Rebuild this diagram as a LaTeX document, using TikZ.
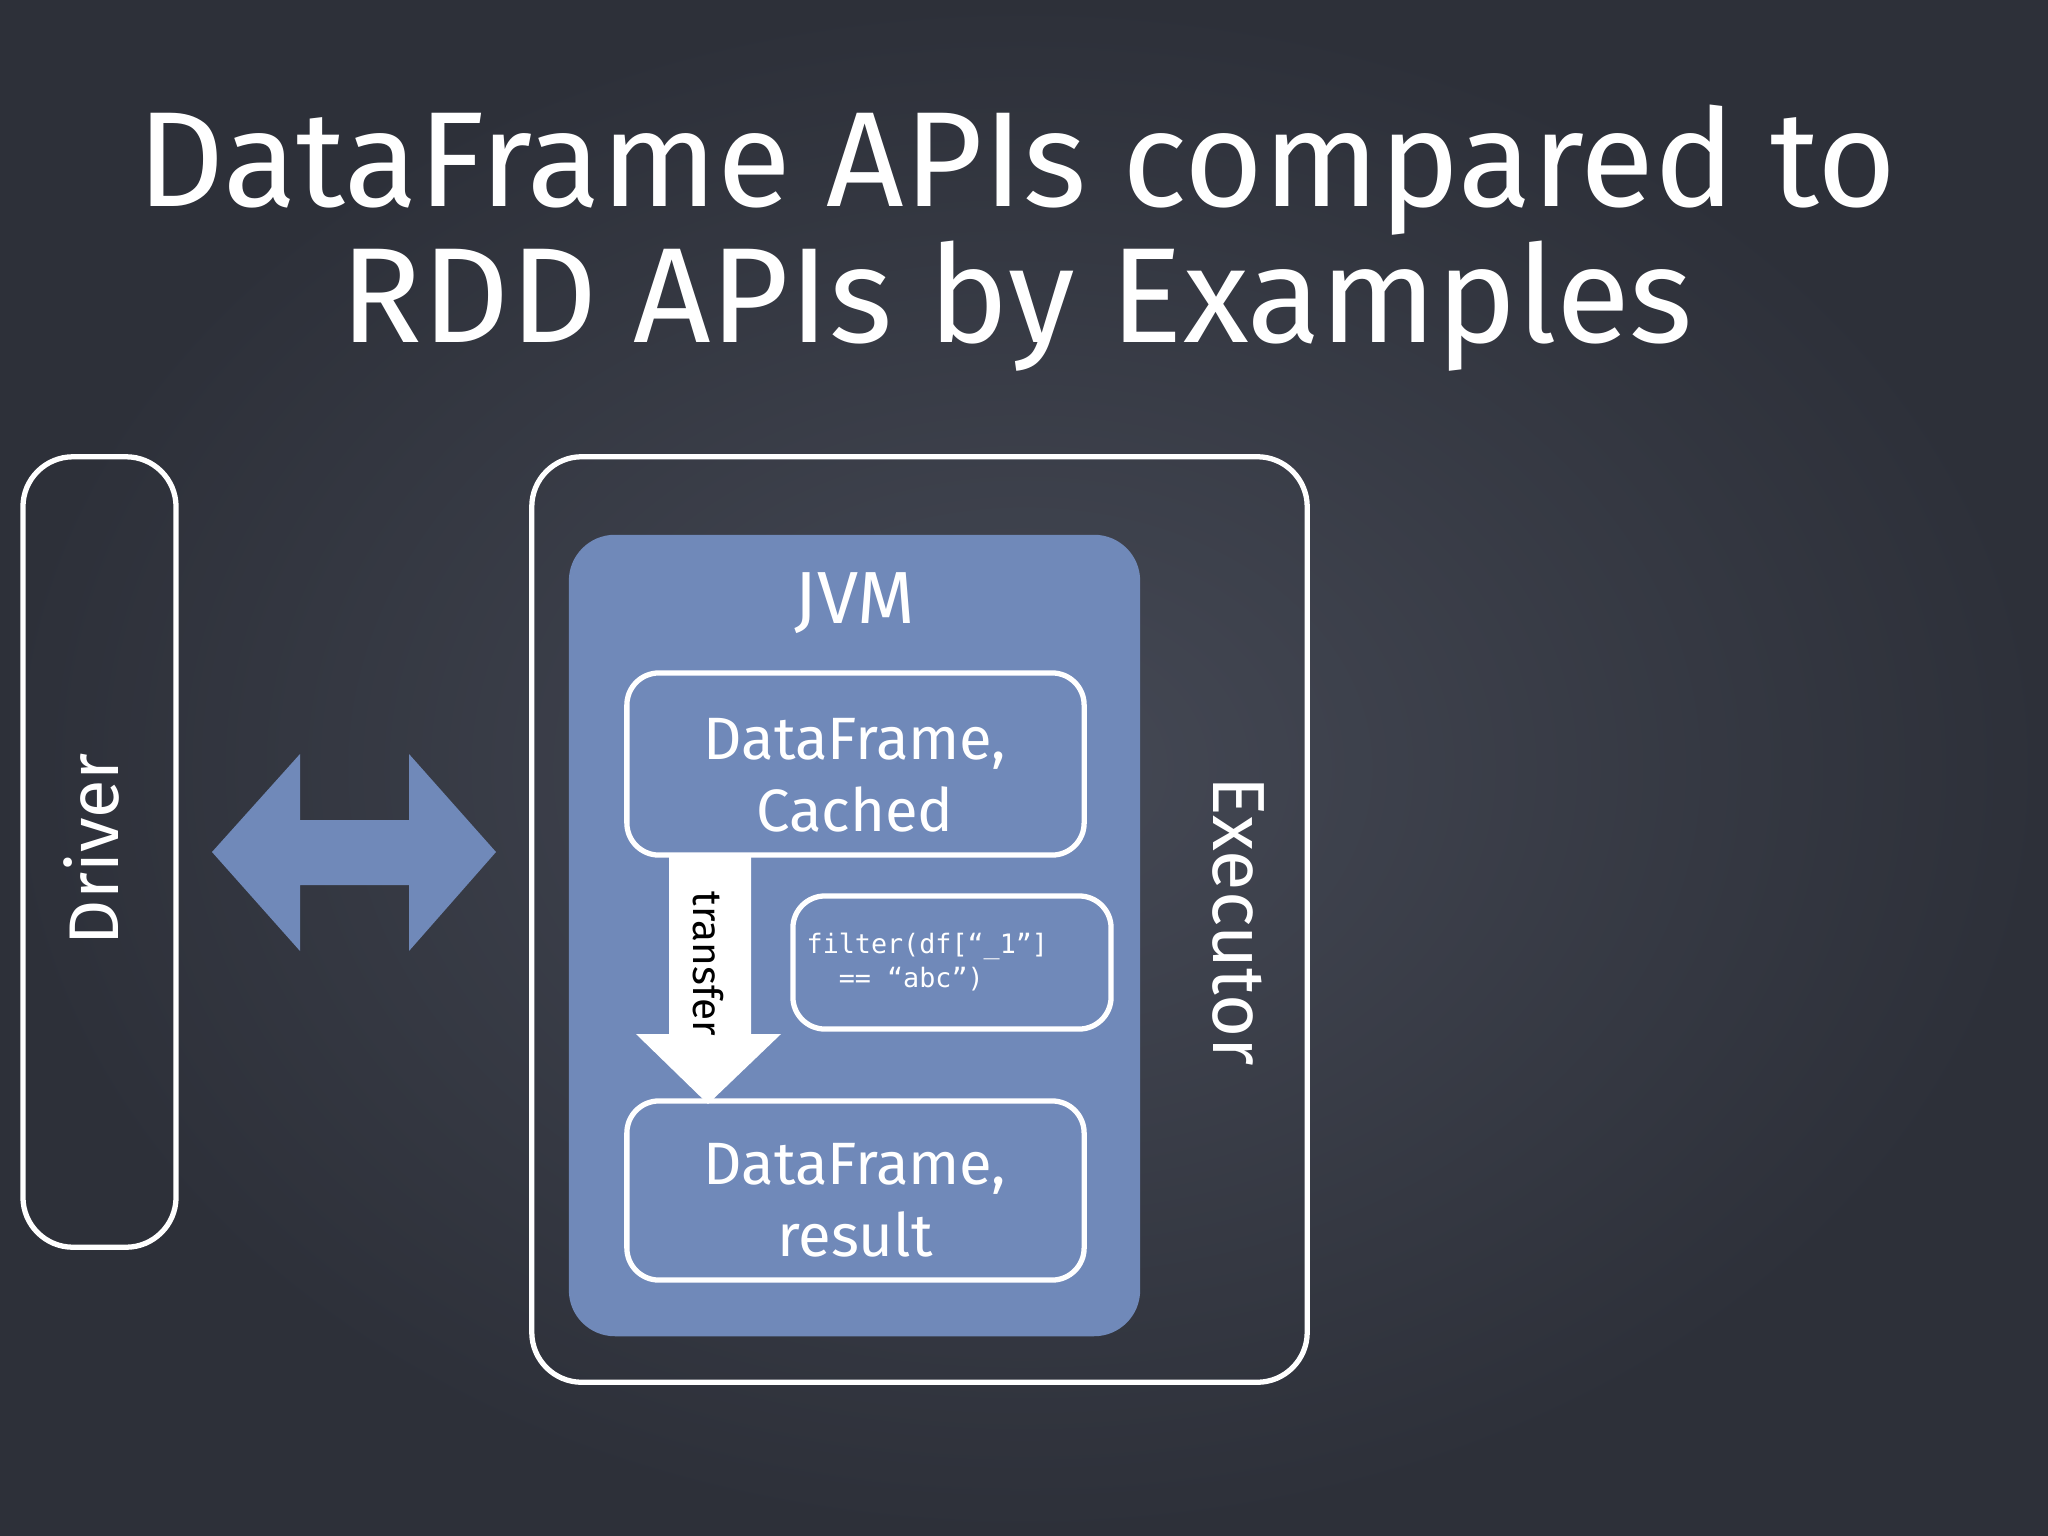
\documentclass[tikz,border=0pt]{standalone}
\usepackage{fontspec}
\setmainfont{Fira Sans}
\setmonofont{DejaVu Sans Mono}
\usetikzlibrary{positioning}
\definecolor{board}{HTML}{2D3039}
\definecolor{boardhi}{HTML}{454955}
\definecolor{slate}{HTML}{7089B9}
\begin{document}
\begin{tikzpicture}[x=0.01cm,y=-0.01cm]
	\tikzset{chalk/.style={draw=white, line width=1.5pt, inner sep=0pt}}
	\tikzset{bigbox/.style={chalk, rounded corners=0.5cm}}
	\tikzset{smallbox/.style={chalk, rounded corners=0.32cm}}
	\tikzset{chalktext/.style={text=white, inner sep=0pt}}
	\tikzset{boxtext/.style={chalktext, align=center, font=\fontsize{17}{20.5}\selectfont}}
	% board
	\useasboundingbox (0,0) rectangle (2048,1536);
	\shade[inner color=boardhi, outer color=board] (0,0) rectangle (2048,1536);
	% title
	\node[chalktext, anchor=base, font=\fontsize{38.5}{42}\selectfont]	(title1) at (1017,206)	{DataFrame APIs compared to};
	\node[chalktext, anchor=base, font=\fontsize{38.5}{42}\selectfont]	(title2) at (1017,342)	{RDD APIs by Examples};
	% driver and executor
	\node[bigbox, minimum width=1.53cm, minimum height=7.90cm]	(driver)	at (99.5,852)	{};
	\node[chalktext, rotate=90, font=\fontsize{20}{24}\selectfont]	(driverlbl)	at (91,849)	{Driver};
	\node[bigbox, minimum width=7.75cm, minimum height=9.25cm]	(executor)	at (919.5,919.5)	{};
	\node[chalktext, rotate=-90, font=\fontsize{21}{24}\selectfont]	(executorlbl)	at (1238,921)	{Executor};
	% link between them
	\fill[slate] (212,852) -- (300,754) -- (300,820) -- (409,820) -- (409,754) -- (496,852)
		-- (409,951) -- (409,885) -- (300,885) -- (300,951) -- cycle;
	% jvm
	\node[fill=slate, rounded corners=0.46cm, minimum width=5.71cm, minimum height=8.01cm]	(jvm)	at (854.5,935.5)	{};
	\node[chalktext, font=\fontsize{21}{24}\selectfont]	(jvmlbl)	at (855,603)	{JVM};
	\node[smallbox, minimum width=4.57cm, minimum height=1.82cm]	(cached)	at (855.5,764)	{};
	\node[boxtext]	(cachedlbl)	at (855,775)	{DataFrame,\\Cached};
	\node[smallbox, minimum width=3.18cm, minimum height=1.33cm]	(filter)	at (952,962.5)	{};
	\node[chalktext, anchor=west, align=left, font=\ttfamily\fontsize{7.6}{9.8}\selectfont]	(filterlbl)	at (806,962)	{filter(df[“\_1”]\\~~== “abc”)};
	\node[smallbox, minimum width=4.57cm, minimum height=1.79cm]	(result)	at (855.5,1190.5)	{};
	\node[boxtext]	(resultlbl)	at (855,1200)	{DataFrame,\\result};
	% transfer arrow
	\fill[white] (669,855) -- (751,855) -- (751,1034) -- (781,1034) -- (708,1104)
		-- (636,1034) -- (669,1034) -- cycle;
	\node[rotate=-90, inner sep=0pt, font=\fontsize{11.5}{13}\selectfont]	(transferlbl)	at (708,964)	{transfer};
\end{tikzpicture}
\end{document}
